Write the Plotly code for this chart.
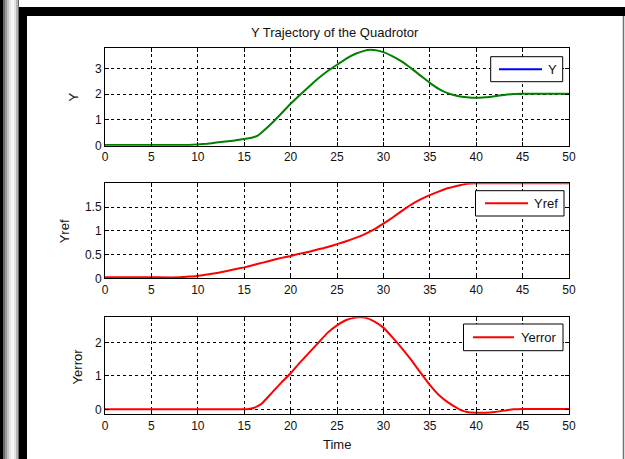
import plotly.graph_objects as go

# ---------------- data ----------------
t_y = [0, 5, 9, 10, 11, 12, 13, 14, 15, 15.5, 16, 16.5, 17, 18, 19, 20, 21, 22, 23, 24, 25,
       26, 27, 28, 28.5, 29, 30, 31, 32, 33, 34, 35, 36, 37, 38, 39, 40, 41, 42, 43, 44, 45, 50]
y_vals = [0.03, 0.03, 0.03, 0.05, 0.08, 0.12, 0.16, 0.2, 0.26, 0.29, 0.33, 0.4, 0.55, 0.88,
          1.25, 1.63, 1.97, 2.3, 2.62, 2.9, 3.14, 3.38, 3.57, 3.69, 3.72, 3.71, 3.63, 3.47,
          3.26, 3.0, 2.72, 2.44, 2.2, 2.03, 1.93, 1.88, 1.86, 1.88, 1.92, 1.97, 2.01, 2.02, 2.02]

t_ref = [0, 5, 8, 8.5, 10, 11, 12, 13, 14, 15, 16, 17, 18, 19, 20, 21, 22, 23, 24, 25, 26, 27,
         28, 29, 30, 31, 32, 33, 34, 35, 36, 37, 38, 39, 40, 45, 50]
yref_vals = [0.02, 0.02, 0.02, 0.03, 0.05, 0.08, 0.11, 0.15, 0.19, 0.23, 0.28, 0.33, 0.38,
             0.43, 0.47, 0.52, 0.56, 0.61, 0.66, 0.72, 0.78, 0.85, 0.93, 1.03, 1.15, 1.28,
             1.42, 1.55, 1.66, 1.75, 1.83, 1.9, 1.95, 1.99, 2.0, 2.0, 2.0]

t_err = [0, 5, 10, 15, 15.5, 16, 16.5, 17, 18, 19, 20, 21, 22, 23, 24, 25, 26, 27, 27.5, 28,
         29, 30, 31, 32, 33, 34, 35, 36, 37, 38, 38.5, 39, 40, 41, 42, 43, 44, 45, 50]
yerr_vals = [0, 0, 0, 0, 0.01, 0.04, 0.1, 0.2, 0.5, 0.8, 1.08, 1.4, 1.7, 2.0, 2.3, 2.52, 2.68,
             2.75, 2.76, 2.75, 2.64, 2.45, 2.15, 1.83, 1.48, 1.1, 0.73, 0.42, 0.2, 0.03, -0.04,
             -0.08, -0.1, -0.1, -0.08, -0.04, 0.0, 0.01, 0.01]

x_ticks = list(range(0, 51, 5))
y1_ticks = [0, 1, 2, 3]
y2_ticks = [0, 0.5, 1, 1.5]
y3_ticks = [0, 1, 2]

# ---------------- layout helpers ----------------
W, H = 625, 459
def px(x):
    return x / W
def py(y):
    return 1 - y / H

FONT = "Liberation Sans, Arial, sans-serif"
TXT = "#111111"
fig = go.Figure()

line_kw = dict(width=2, shape="spline", smoothing=0.4)
fig.add_trace(go.Scatter(x=t_y, y=y_vals, mode="lines", line=dict(color="#008000", **line_kw),
                         xaxis="x", yaxis="y", showlegend=False))
fig.add_trace(go.Scatter(x=t_ref, y=yref_vals, mode="lines", line=dict(color="#ff0000", **line_kw),
                         xaxis="x2", yaxis="y2", showlegend=False))
fig.add_trace(go.Scatter(x=t_err, y=yerr_vals, mode="lines", line=dict(color="#ff0000", **line_kw),
                         xaxis="x3", yaxis="y3", showlegend=False))

xdom = [px(105), px(569)]
doms = [(48.3, 145.7), (183.3, 278.3), (317.3, 414.3)]
ranges = [[0, 3.78], [0, 2.0], [-0.15, 2.76]]
yticks = [y1_ticks, y2_ticks, y3_ticks]

axis_common = dict(showline=True, linecolor="black", linewidth=1, mirror="ticks",
                   ticks="inside", ticklen=4, tickcolor="black",
                   showgrid=True, gridcolor="black", gridwidth=1, griddash="3px,3px",
                   zeroline=False, tickfont=dict(family=FONT, size=12, color=TXT))

for i in range(3):
    sx = "" if i == 0 else str(i + 1)
    top, bot = doms[i]
    fig.layout["xaxis" + sx] = dict(axis_common, domain=xdom, range=[0, 50], tickvals=x_ticks,
                                    anchor="y" + sx)
    fig.layout["yaxis" + sx] = dict(axis_common, domain=[py(bot), py(top)], range=ranges[i],
                                    tickvals=yticks[i], anchor="x" + sx)

shapes = []
annotations = []

# frame decoration
shapes.append(dict(type="rect", xref="paper", yref="paper", x0=px(19), x1=px(27), y0=py(459), y1=py(7),
                   fillcolor="black", line=dict(width=0), layer="below"))
shapes.append(dict(type="rect", xref="paper", yref="paper", x0=px(19), x1=px(625), y0=py(16), y1=py(7),
                   fillcolor="black", line=dict(width=0), layer="below"))
shapes.append(dict(type="rect", xref="paper", yref="paper", x0=px(0), x1=px(3), y0=py(459), y1=py(0),
                   fillcolor="black", line=dict(width=0), layer="below"))
grads = [(3, 5, "#6a6a6a"), (5, 7, "#9a9a9a"), (7, 9, "#c4c4c4"), (9, 11, "#e4e4e4"),
         (11, 14, "#f6f6f6"), (14, 16, "#e2e2e2"), (16, 18, "#b5b5b5"), (18, 19, "#6a6a6a")]
for a, b, c in grads:
    shapes.append(dict(type="rect", xref="paper", yref="paper", x0=px(a), x1=px(b), y0=py(459), y1=py(0),
                       fillcolor=c, line=dict(width=0), layer="below"))
shapes.append(dict(type="line", xref="paper", yref="paper", x0=px(623.5), x1=px(623.5), y0=py(459), y1=py(16),
                   line=dict(color="#707070", width=1.5), layer="below"))

# legends (drawn boxes)
legends = [
    (490.7, 562.7, 56.7, 81.7, 499, 542, "#0000ff", "Y", 546),
    (475.5, 564, 190.7, 216, 485, 528, "#ff0000", "Yref", 532),
    (463.5, 563, 324, 350.7, 473, 514, "#ff0000", "Yerror", 519),
]
for x0, x1, y0, y1, lx0, lx1, col, txt, tx in legends:
    shapes.append(dict(type="rect", xref="paper", yref="paper", x0=px(x0), x1=px(x1), y0=py(y1), y1=py(y0),
                       fillcolor="white", line=dict(color="black", width=1), layer="above"))
    ym = (y0 + y1) / 2
    shapes.append(dict(type="line", xref="paper", yref="paper", x0=px(lx0), x1=px(lx1), y0=py(ym), y1=py(ym),
                       line=dict(color=col, width=2), layer="above"))
    annotations.append(dict(text=txt, xref="paper", yref="paper", x=px(tx), y=py(ym), xanchor="left",
                            yanchor="middle", showarrow=False, font=dict(family=FONT, size=13, color=TXT)))

# title & axis titles
annotations.append(dict(text="Y Trajectory of the Quadrotor", xref="paper", yref="paper", x=px(335), y=py(33),
                        xanchor="center", yanchor="middle", showarrow=False,
                        font=dict(family=FONT, size=13, color=TXT)))
annotations.append(dict(text="Time", xref="paper", yref="paper", x=px(337), y=py(444),
                        xanchor="center", yanchor="middle", showarrow=False,
                        font=dict(family=FONT, size=13, color=TXT)))
for txt, xx, yy in [("Y", 73.7, 96.7), ("Yref", 64.6, 231.7), ("Yerror", 77.7, 366.7)]:
    annotations.append(dict(text=txt, xref="paper", yref="paper", x=px(xx), y=py(yy), textangle=-90,
                            xanchor="center", yanchor="middle", showarrow=False,
                            font=dict(family=FONT, size=13, color=TXT)))

fig.update_layout(width=W, height=H, margin=dict(l=0, r=0, t=0, b=0, autoexpand=False),
                  paper_bgcolor="white", plot_bgcolor="white", showlegend=False,
                  shapes=shapes, annotations=annotations, font=dict(family=FONT, size=12))

fig.write_html("out.html")
